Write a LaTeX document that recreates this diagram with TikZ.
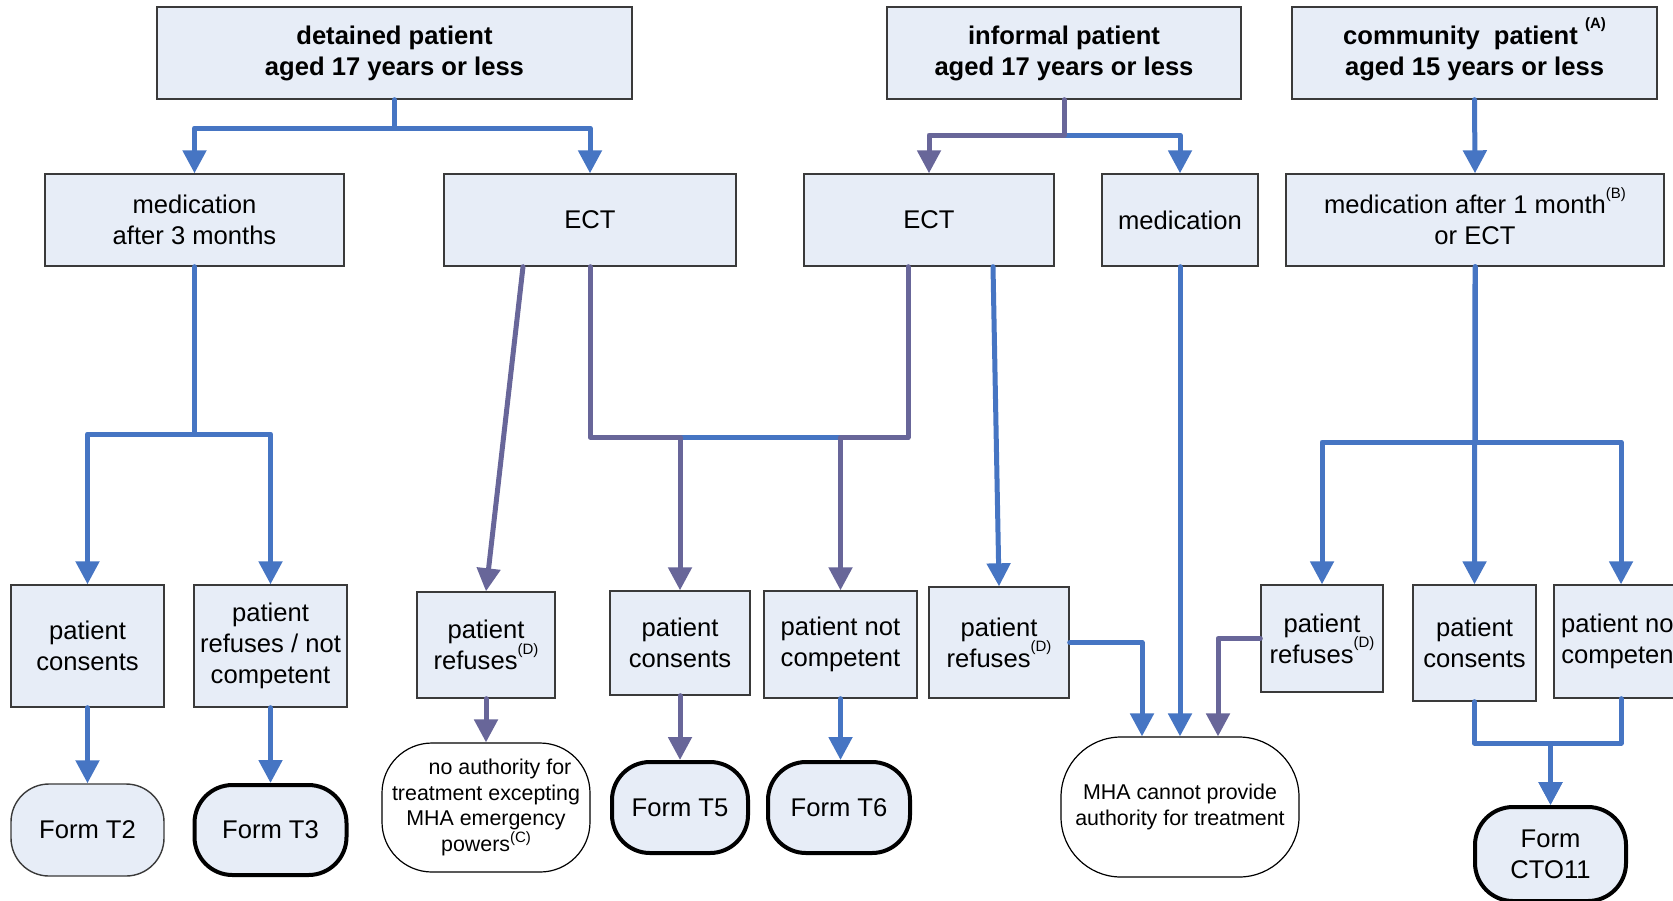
\documentclass[tikz,border=0pt]{standalone}
\usepackage{fontspec}
\setmainfont{Liberation Sans}
\usetikzlibrary{arrows.meta,calc}
\definecolor{cblue}{HTML}{4675C3}
\definecolor{cpurp}{HTML}{686699}
\definecolor{cfill}{HTML}{E7EDF7}
\definecolor{cbord}{HTML}{3A3A3A}
\newcommand\mysup[2][0.6em]{\raisebox{#1}[0pt][0pt]{\fontsize{7.5}{8}\selectfont #2}}
\begin{document}
\begin{tikzpicture}[x=0.5pt,y=-0.5pt,
  box/.style={draw=cbord, line width=0.7pt, fill=cfill, align=center, inner sep=0pt,
              font=\fontsize{12.8}{15.5}\selectfont},
  topbox/.style={box, font=\bfseries\fontsize{12.8}{15.5}\selectfont},
  formthin/.style={box, rounded corners=19pt},
  formthick/.style={box, draw=black, line width=2pt, rounded corners=19pt},
  endbox/.style={draw=black, line width=0.6pt, fill=white, align=center, inner sep=0pt,
              font=\fontsize{10.7}{12.8}\selectfont},
  con/.style={line width=2.5pt, line cap=round, line join=round},
  bl/.style={con, draw=cblue},
  pu/.style={con, draw=cpurp},
  arr/.style={-{Triangle[width=11.5pt,length=11.5pt]}}
]
\useasboundingbox (0,0) rectangle (1673,900);
\clip (0,0) rectangle (1673,900);
\fill[white] (0,0) rectangle (1673,900);

% top row
\node[topbox, minimum width=237.5pt, minimum height=46pt] (det) at (394.5,53) {detained patient\\aged 17 years or less};
\node[topbox, minimum width=177pt, minimum height=46pt] (inf) at (1064,53) {informal patient\\aged 17 years or less};
\node[topbox, minimum width=182.5pt, minimum height=46pt] (com) at (1474.5,53) {community~ patient \mysup{(A)}\\aged 15 years or less};

% second row
\node[box, minimum width=149.5pt, minimum height=46pt] (med3) at (194.5,220) {medication\\after 3 months};
\node[box, minimum width=146pt, minimum height=46pt] (ectd) at (590,220) {ECT};
\node[box, minimum width=125pt, minimum height=46pt] (ecti) at (929,220) {ECT};
\node[box, minimum width=78pt, minimum height=46pt] (medi) at (1180,220) {medication};
\node[box, minimum width=189pt, minimum height=46pt] (med1) at (1475,220) {medication after 1 month\mysup{(B)}\\or ECT};

% third row
\node[box, minimum width=76.5pt, minimum height=61pt] (pc1) at (87.5,646) {patient\\consents};
\node[box, minimum width=76.5pt, minimum height=61pt] (prn) at (270.5,646) {patient\\refuses / not\\competent};
\node[box, minimum width=69pt, minimum height=53pt] (pr1) at (486,645) {patient\\refuses\mysup{(D)}};
\node[box, minimum width=70pt, minimum height=52pt] (pc2) at (680,643) {patient\\consents};
\node[box, minimum width=76.5pt, minimum height=53.5pt] (pnc) at (840.5,644.5) {patient not\\competent};
\node[box, minimum width=70pt, minimum height=55.5pt] (pr2) at (999,642.5) {patient\\refuses\mysup{(D)}};
\node[box, minimum width=61pt, minimum height=53.5pt] (pr3) at (1322,638.5) {patient\\refuses\mysup{(D)}};
\node[box, minimum width=61.5pt, minimum height=58pt] (pc3) at (1474.5,643) {patient\\consents};
\node[box, minimum width=67pt, minimum height=56.5pt] (pnc3) at (1621,641.5) {patient not\\competent};

% bottom row
\node[formthin, minimum width=76.5pt, minimum height=46pt] (t2) at (87.5,830) {Form T2};
\node[formthick, minimum width=76pt, minimum height=45pt] (t3) at (270.5,830) {Form T3};
\node[endbox, rounded corners=25pt, minimum width=104pt, minimum height=64.5pt] (noa) at (486,807.5) {\hspace*{14pt}no authority for\\treatment excepting\\MHA emergency\\powers\mysup[0.4em]{(C)}};
\node[formthick, minimum width=68pt, minimum height=45.5pt] (t5) at (680,807.5) {Form T5};
\node[formthick, minimum width=71pt, minimum height=45.5pt] (t6) at (839,807.5) {Form T6};
\node[endbox, rounded corners=30pt, minimum width=119pt, minimum height=70pt] (mha) at (1180,807) {MHA cannot provide\\authority for treatment};
\node[formthick, minimum width=75.5pt, minimum height=47pt] (cto) at (1550.5,854) {Form\\CTO11};

% connectors: detained
\draw[bl,arr] (det.south) -- (det.south |- 0,128) -| (med3.north);
\draw[bl,arr] (det.south |- 0,128) -| (ectd.north);

% informal
\draw[bl,arr] (inf.south |- 0,135) -| (medi.north);
\draw[pu,arr] (inf.south) -- (inf.south |- 0,135) -| (ecti.north);

% community
\draw[bl,arr] (com.south) -- (med1.north);

% medication after 3 months
\draw[bl,arr] (med3.south) -- (med3.south |- 0,434) -| (pc1.north);
\draw[bl,arr] (med3.south |- 0,434) -| (prn.north);
\draw[bl,arr] (pc1.south) -- (t2.north);
\draw[bl,arr] (prn.south) -- (t3.north);

% ECT detained / informal
\draw[pu,arr] ($(ectd.south)+(-67,0)$) -- (pr1.north);
\draw[pu,arr] (pr1.south) -- (noa.north);
\draw[cblue, line width=2.5pt] (pc2.north |- 0,437) -- (pnc.north |- 0,437);
\draw[pu,arr] (ectd.south) -- (ectd.south |- 0,437) -| (pc2.north);
\draw[pu,arr] ($(ecti.south)+(-21,0)$) -- ++(0,171) -| (pnc.north);
\draw[pu,arr] (pc2.south) -- (t5.north);
\draw[bl,arr] (pnc.south) -- (pnc.south |- t6.north);
\draw[bl,arr] ($(ecti.south)+(64,0)$) -- (pr2.north);

% to MHA
\draw[bl,arr] (pr2.east) -| ($(mha.north)+(-38,0)$);
\draw[bl,arr] (medi.south) -- (mha.north);
\draw[pu,arr] (pr3.west) -| ($(mha.north)+(38,0)$);

% community branch
\draw[bl,arr] (med1.south) -- (med1.south |- 0,442) -| (pr3.north);
\draw[bl,arr] (med1.south |- 0,442) -| (pnc3.north);
\draw[bl,arr] (med1.south) -- (pc3.north);
\draw[bl,arr] (pc3.south) -- (pc3.south |- 0,743) -| (cto.north);
\draw[bl,arr] (pnc3.south) -- (pnc3.south |- 0,743) -| (cto.north);
\end{tikzpicture}
\end{document}
